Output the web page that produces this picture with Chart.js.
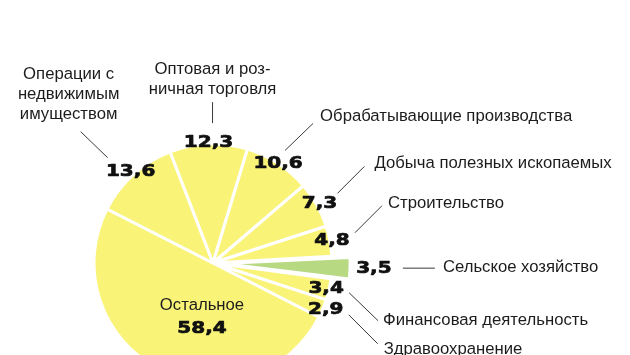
<!DOCTYPE html>
<html lang="ru">
<head>
    <meta charset="UTF-8">
    <title>Структура</title>
    <script src="https://cdn.jsdelivr.net/npm/chart.js@4.4.1/dist/chart.umd.min.js"></script>
    <style>
        body { margin: 0; background: #fff; }
        #wrap { width: 630px; height: 355px; }
    </style>
</head>
<body>
    <div id="wrap"><canvas id="pie" width="630" height="355"></canvas></div>

    <script>
        // Data
        const categories = [
            ['Остальное'],
            ['Операции с', 'недвижимым', 'имуществом'],
            ['Оптовая и роз-', 'ничная торговля'],
            ['Обрабатывающие производства'],
            ['Добыча полезных ископаемых'],
            ['Строительство'],
            ['Сельское хозяйство'],
            ['Финансовая деятельность'],
            ['Здравоохранение']
        ];
        const shares = [58.4, 13.6, 12.3, 10.6, 7.3, 4.8, 3.5, 3.4, 2.9];

        // Styling / layout (not data)
        const YELLOW = '#f9f378';
        const GREEN = '#b7d982';
        const sliceColors = [YELLOW, YELLOW, YELLOW, YELLOW, YELLOW, YELLOW, GREEN, YELLOW, YELLOW];
        // chart.js v4 moves the arc by offset/4 and grows its radius a bit
        const sliceOffsets = [0, 0, 0, 0, 0, 0, 40, 0, 0];
        // distance of the value label from the pie centre (null = drawn inside)
        const valueRadius = [null, 123, 120, 119, 122, 121, 161, 116, 122];
        // leader line [startX, startY, endX, endY] relative to the value label
        const leaders = [
            null,
            [-23, -14, -50, -40],
            [4, -20, 4, -41],
            [7, -13, 35, -40],
            [18, -10, 45, -37],
            [23, -8, 50, -35],
            [29, -1, 61, -1],
            [23, 4, 52, 32],
            [23, 5, 52, 34]
        ];
        // category text [dx, dy, align] relative to leader end (dy = first line)
        const textPos = [
            null,
            [-12, -57, 'center'],
            [0, -33, 'center'],
            [7, -7, 'left'],
            [10, -3, 'left'],
            [6, -2, 'left'],
            [8, -1, 'left'],
            [5, 0, 'left'],
            [6, 6, 'left']
        ];

        const fmt = v => v.toFixed(1).replace('.', ',');

        function drawValue(ctx, text, cx, cy) {
            ctx.save();
            ctx.translate(cx, cy);
            ctx.scale(1.25, 1);
            ctx.font = 'bold 16px "DejaVu Sans"';
            ctx.fillStyle = '#111';
            ctx.strokeStyle = '#111';
            ctx.lineWidth = 0.7;
            ctx.lineJoin = 'round';
            ctx.textAlign = 'center';
            ctx.textBaseline = 'middle';
            ctx.fillText(text, 0, 0);
            ctx.strokeText(text, 0, 0);
            ctx.restore();
        }

        function drawName(ctx, lines, x, y, align) {
            ctx.save();
            ctx.font = '16.7px "Liberation Sans", Arial, sans-serif';
            ctx.fillStyle = '#1c1c1c';
            ctx.textAlign = align;
            ctx.textBaseline = 'middle';
            lines.forEach((t, k) => ctx.fillText(t, x, y + k * 20));
            ctx.restore();
        }

        const sliceLabels = {
            id: 'sliceLabels',
            afterDatasetsDraw(chart) {
                const ctx = chart.ctx;
                const arcs = chart.getDatasetMeta(0).data;
                arcs.forEach((arc, i) => {
                    const p = arc.getProps(['x', 'y', 'startAngle', 'endAngle'], true);
                    const mid = (p.startAngle + p.endAngle) / 2;
                    if (valueRadius[i] === null) {
                        // inside label
                        const ax = p.x - 11, ay = p.y + 54;
                        drawName(ctx, categories[i], ax, ay - 12, 'center');
                        drawValue(ctx, fmt(shares[i]), ax, ay + 12);
                        return;
                    }
                    const lx = p.x + Math.cos(mid) * valueRadius[i];
                    const ly = p.y + Math.sin(mid) * valueRadius[i];
                    drawValue(ctx, fmt(shares[i]), lx, ly);

                    const l = leaders[i];
                    ctx.save();
                    ctx.strokeStyle = '#3a3a3a';
                    ctx.lineWidth = 1;
                    ctx.beginPath();
                    ctx.moveTo(lx + l[0], ly + l[1]);
                    ctx.lineTo(lx + l[2], ly + l[3]);
                    ctx.stroke();
                    ctx.restore();

                    const t = textPos[i];
                    drawName(ctx, categories[i], lx + l[2] + t[0], ly + l[3] + t[1], t[2]);
                });
            }
        };

        new Chart(document.getElementById('pie'), {
            type: 'pie',
            data: {
                labels: categories.map(c => c.join(' ')),
                datasets: [{
                    data: shares,
                    backgroundColor: sliceColors,
                    borderColor: '#ffffff',
                    borderWidth: 3,
                    offset: sliceOffsets,
                    clip: false
                }]
            },
            options: {
                responsive: false,
                animation: false,
                devicePixelRatio: 1,
                rotation: 117,
                radius: 119,
                layout: { padding: { left: 0, right: 204, top: 171, bottom: 0 } },
                plugins: {
                    legend: { display: false },
                    tooltip: { enabled: false }
                },
                events: []
            },
            plugins: [sliceLabels]
        });
    </script>
</body>
</html>
